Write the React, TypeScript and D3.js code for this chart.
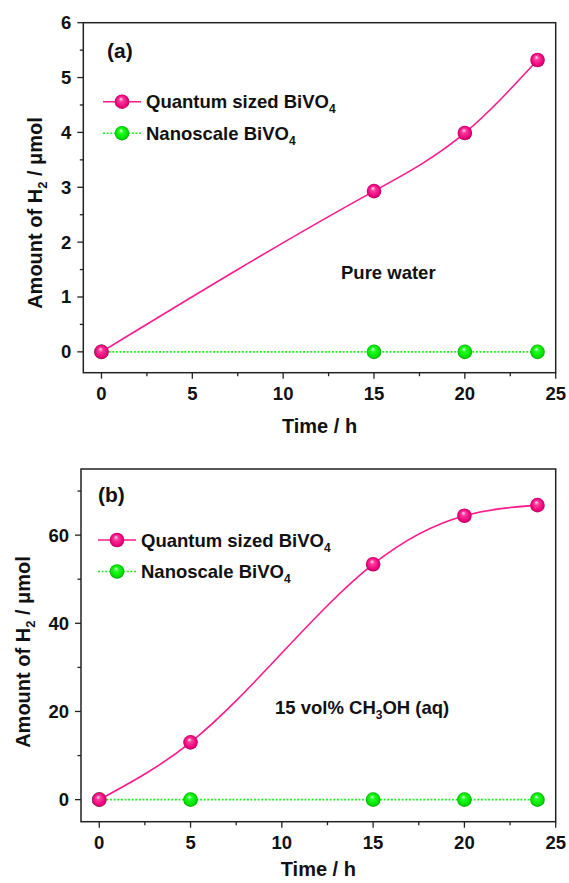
import React from "react";
import * as d3 from "d3";

// panel (a): pure water
const timeA = [0, 15, 20, 24];
const quantumA = [0, 2.93, 3.99, 5.32];
const nanoA = [0, 0, 0, 0];

// panel (b): 15 vol% methanol
const timeB = [0, 5, 15, 20, 24];
const quantumB = [0, 13.0, 53.4, 64.4, 66.8];
const nanoB = [0, 0, 0, 0, 0];

const xTicks = [0, 5, 10, 15, 20, 25];
const xMinor = [2.5, 7.5, 12.5, 17.5, 22.5];
const yTicksA = [0, 1, 2, 3, 4, 5, 6];
const yMinorA = [0.5, 1.5, 2.5, 3.5, 4.5, 5.5];
const yTicksB = [0, 20, 40, 60];
const yMinorB = [10, 30, 50, 70];

const PINK = "#ff1a8c";
const GREEN = "#22ee22";
const FONT = "'Liberation Sans', Arial, sans-serif";

// natural cubic spline y(x), drawn as bezier segments (like Origin's spline connect)
function curveSplineX(context: any) {
  let xs: number[] = [];
  let ys: number[] = [];
  return {
    areaStart() {},
    areaEnd() {},
    lineStart() {
      xs = [];
      ys = [];
    },
    point(x: number, y: number) {
      xs.push(+x);
      ys.push(+y);
    },
    lineEnd() {
      const n = xs.length;
      if (!n) return;
      context.moveTo(xs[0], ys[0]);
      if (n < 3) {
        for (let i = 1; i < n; i++) context.lineTo(xs[i], ys[i]);
        return;
      }
      const h: number[] = [];
      const d: number[] = [];
      for (let i = 0; i < n - 1; i++) {
        h.push(xs[i + 1] - xs[i]);
        d.push((ys[i + 1] - ys[i]) / h[i]);
      }
      const M = new Array(n).fill(0);
      const cp: number[] = new Array(n).fill(0);
      const rp: number[] = new Array(n).fill(0);
      for (let i = 1; i < n - 1; i++) {
        const a = h[i - 1];
        const b = 2 * (h[i - 1] + h[i]);
        const c = h[i];
        const r = 6 * (d[i] - d[i - 1]);
        const den = b - a * cp[i - 1];
        cp[i] = c / den;
        rp[i] = (r - a * rp[i - 1]) / den;
      }
      for (let i = n - 2; i >= 1; i--) M[i] = rp[i] - cp[i] * M[i + 1];
      const m: number[] = [];
      for (let i = 0; i < n - 1; i++) m.push(d[i] - (h[i] * (2 * M[i] + M[i + 1])) / 6);
      m.push(d[n - 2] + (h[n - 2] * (M[n - 2] + 2 * M[n - 1])) / 6);
      for (let i = 0; i < n - 1; i++) {
        const k = h[i] / 3;
        context.bezierCurveTo(
          xs[i] + k, ys[i] + m[i] * k,
          xs[i + 1] - k, ys[i + 1] - m[i + 1] * k,
          xs[i + 1], ys[i + 1]
        );
      }
    },
  };
}

type PanelProps = {
  id: string;
  frame: { left: number; right: number; top: number; bottom: number };
  yDomain: [number, number];
  yTicks: number[];
  yMinor: number[];
  time: number[];
  quantum: number[];
  nano: number[];
  label: string;
  labelPos: [number, number];
  legendX: number;
  legendY: number;
  yTitle: [number, number];
  xTitleY: number;
  note: React.ReactNode;
};

function Ball({ x, y, fill }: { x: number; y: number; fill: string }) {
  return <circle cx={x} cy={y} r={7.3} fill={`url(#${fill})`} />;
}

function Panel(p: PanelProps) {
  const { frame } = p;
  const x = d3.scaleLinear().domain([-1, 25]).range([frame.left, frame.right]);
  const y = d3.scaleLinear().domain(p.yDomain).range([frame.bottom, frame.top]);
  const line = d3
    .line<number>()
    .x((d, i) => x(p.time[i]))
    .y((d) => y(d))
    .curve(curveSplineX as any);

  return (
    <g fontFamily={FONT} fontWeight="bold" fill="#111">
      <rect
        x={frame.left}
        y={frame.top}
        width={frame.right - frame.left}
        height={frame.bottom - frame.top}
        fill="none"
        stroke="#222"
        strokeWidth={1.5}
      />
      {xTicks.map((t) => (
        <g key={"xt" + t}>
          <line x1={x(t)} x2={x(t)} y1={frame.bottom} y2={frame.bottom + 6} stroke="#222" strokeWidth={1.3} />
          <text x={x(t)} y={frame.bottom + 27} fontSize={18.5} textAnchor="middle">{t}</text>
        </g>
      ))}
      {xMinor.map((t) => (
        <line key={"xm" + t} x1={x(t)} x2={x(t)} y1={frame.bottom} y2={frame.bottom + 3.5} stroke="#222" strokeWidth={1.3} />
      ))}
      {p.yTicks.map((t) => (
        <g key={"yt" + t}>
          <line x1={frame.left - 6} x2={frame.left} y1={y(t)} y2={y(t)} stroke="#222" strokeWidth={1.3} />
          <text x={frame.left - 12} y={y(t) + 6.5} fontSize={18.5} textAnchor="end">{t}</text>
        </g>
      ))}
      {p.yMinor.map((t) => (
        <line key={"ym" + t} x1={frame.left - 3.5} x2={frame.left} y1={y(t)} y2={y(t)} stroke="#222" strokeWidth={1.3} />
      ))}

      <text x={(frame.left + frame.right) / 2} y={p.xTitleY} fontSize={20} textAnchor="middle">Time / h</text>
      <text
        transform={`translate(${p.yTitle[0]},${p.yTitle[1]}) rotate(-90)`}
        fontSize={20}
        textAnchor="middle"
      >
        Amount of H<tspan fontSize={13} dy={5}>2</tspan>
        <tspan dy={-5}> / μmol</tspan>
      </text>

      <text x={p.labelPos[0]} y={p.labelPos[1]} fontSize={21}>{p.label}</text>
      {p.note}

      <path d={line(p.nano) ?? ""} fill="none" stroke={GREEN} strokeWidth={1.6} strokeDasharray="2 1.6" />
      <path d={line(p.quantum) ?? ""} fill="none" stroke={PINK} strokeWidth={1.6} />
      {p.nano.map((v, i) => (
        <Ball key={"n" + i} x={x(p.time[i])} y={y(v)} fill={p.id + "g"} />
      ))}
      {p.quantum.map((v, i) => (
        <Ball key={"q" + i} x={x(p.time[i])} y={y(v)} fill={p.id + "p"} />
      ))}

      {/* legend */}
      <line x1={p.legendX} x2={p.legendX + 38} y1={p.legendY} y2={p.legendY} stroke={PINK} strokeWidth={1.6} />
      <Ball x={p.legendX + 19} y={p.legendY} fill={p.id + "p"} />
      <text x={p.legendX + 43} y={p.legendY + 6.5} fontSize={18.5}>
        Quantum sized BiVO<tspan fontSize={12} dy={5}>4</tspan>
      </text>
      <line x1={p.legendX} x2={p.legendX + 38} y1={p.legendY + 31.5} y2={p.legendY + 31.5} stroke={GREEN} strokeWidth={1.6} strokeDasharray="2 1.6" />
      <Ball x={p.legendX + 19} y={p.legendY + 31.5} fill={p.id + "g"} />
      <text x={p.legendX + 43} y={p.legendY + 38} fontSize={18.5}>
        Nanoscale BiVO<tspan fontSize={12} dy={5}>4</tspan>
      </text>
    </g>
  );
}

function Gradients({ id }: { id: string }) {
  return (
    <>
      <radialGradient id={id + "p"} cx="0.5" cy="0.5" r="0.5" fx="0.42" fy="0.3">
        <stop offset="0" stopColor="#ffe8f2" />
        <stop offset="0.3" stopColor="#ff3d9e" />
        <stop offset="0.8" stopColor="#ee007a" />
        <stop offset="1" stopColor="#b80060" />
      </radialGradient>
      <radialGradient id={id + "g"} cx="0.5" cy="0.5" r="0.5" fx="0.42" fy="0.3">
        <stop offset="0" stopColor="#e8ffe8" />
        <stop offset="0.3" stopColor="#22ff22" />
        <stop offset="0.8" stopColor="#00e000" />
        <stop offset="1" stopColor="#00a800" />
      </radialGradient>
    </>
  );
}

export default function App() {
  return (
    <svg width={569} height={883} style={{ position: "absolute", left: 0, top: 0, background: "#fff" }}>
      <defs>
        <Gradients id="a" />
        <Gradients id="b" />
      </defs>
      <Panel
        id="a"
        frame={{ left: 83.3, right: 555.7, top: 22.7, bottom: 372.7 }}
        yDomain={[-0.38, 6]}
        yTicks={yTicksA}
        yMinor={yMinorA}
        time={timeA}
        quantum={quantumA}
        nano={nanoA}
        label="(a)"
        labelPos={[107, 58]}
        legendX={103}
        legendY={101.7}
        yTitle={[42, 213]}
        xTitleY={433}
        note={
          <text x={341} y={279} fontSize={18.5}>Pure water</text>
        }
      />
      <Panel
        id="b"
        frame={{ left: 81, right: 555.7, top: 469, bottom: 821.7 }}
        yDomain={[-5, 75]}
        yTicks={yTicksB}
        yMinor={yMinorB}
        time={timeB}
        quantum={quantumB}
        nano={nanoB}
        label="(b)"
        labelPos={[98, 502]}
        legendX={98}
        legendY={540}
        yTitle={[30, 652]}
        xTitleY={876}
        note={
          <text x={275} y={714} fontSize={18.5}>
            15 vol% CH<tspan fontSize={12} dy={5}>3</tspan><tspan dy={-5}>OH (aq)</tspan>
          </text>
        }
      />
    </svg>
  );
}
